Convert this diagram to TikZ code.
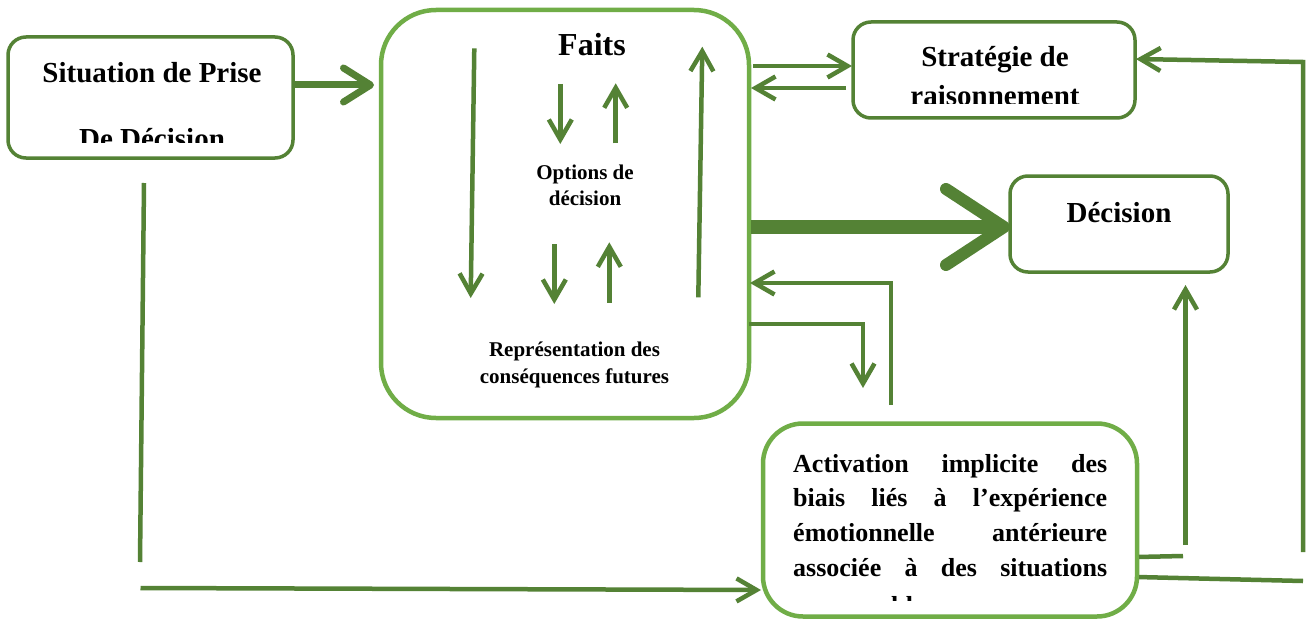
\documentclass[tikz,border=0pt]{standalone}
\usepackage{fontspec}
\setmainfont{Liberation Serif}
\usetikzlibrary{arrows.meta}
\definecolor{dkgreen}{RGB}{84,130,53}
\definecolor{ltgreen}{RGB}{112,173,71}
\tikzset{
  darkbox/.style={draw=dkgreen, line width=3.5pt, rounded corners=18pt, inner sep=0pt, outer sep=0pt, fill=white},
  lightbox/.style={draw=ltgreen, line width=4.5pt, inner sep=0pt, outer sep=0pt, fill=white},
  conn/.style={draw=dkgreen, line width=4.5pt},
  arr/.style={conn, -{Straight Barb[length=20pt,width=23pt]}},
  thickarr/.style={draw=dkgreen, line width=7pt, -{Straight Barb[length=27pt,width=34pt,round]}},
  hugearr/.style={draw=dkgreen, line width=14pt, -{Straight Barb[length=58pt,width=76pt,line width=12pt,round]}},
  txtL/.style={font=\fontsize{29}{35}\selectfont\bfseries, inner sep=0pt, anchor=base},
  txtF/.style={font=\fontsize{32}{38}\selectfont\bfseries, inner sep=0pt, anchor=base},
  txtA/.style={font=\fontsize{26}{35}\selectfont\bfseries, inner sep=0pt, anchor=base west},
  txtS/.style={font=\fontsize{21}{27}\selectfont\bfseries, inner sep=0pt, anchor=base},
}
\begin{document}
\begin{tikzpicture}[x=1pt,y=-1pt]
\useasboundingbox[fill=white] (0,0) rectangle (1306,623);

% boxes
\node[darkbox, minimum width=285pt, minimum height=121pt] (sit) at (150.5,97.5) {};
\node[lightbox, rounded corners=55pt, minimum width=368pt, minimum height=408pt] (faits) at (565,214) {};
\node[darkbox, minimum width=282pt, minimum height=96pt] (strat) at (994,70) {};
\node[darkbox, minimum width=218pt, minimum height=96pt] (dec) at (1119,224) {};
\node[lightbox, rounded corners=40pt, minimum width=374pt, minimum height=193pt] (act) at (950,520) {};

% texts
\node[txtL] (sitA) at (152,83) {Situation de Prise};
\begin{scope}
  \clip (8,37) rectangle (293,142.7);
  \node[txtL] (sitB) at (152,149) {De Décision};
\end{scope}
\node[txtF] (faitsT) at (592,56) {Faits};
\node[txtS] (optA) at (585,179) {Options de};
\node[txtS] (optB) at (585,205) {décision};
\node[txtS] (repA) at (574.5,356) {Représentation des};
\node[txtS] (repB) at (574.5,383) {conséquences futures};
\node[txtL] (stratA) at (995,67) {Stratégie de};
\begin{scope}
  \clip (853,22) rectangle (1135,104);
  \node[txtL] (stratB) at (995,106) {raisonnement};
\end{scope}
\node[txtL] (decT) at (1119,222) {Décision};
\node[txtA] (actA) at (793,472) {\makebox[314pt][s]{Activation implicite des}};
\node[txtA] (actB) at (793,506) {\makebox[314pt][s]{biais liés à l’expérience}};
\node[txtA] (actC) at (793,541) {\makebox[314pt][s]{émotionnelle antérieure}};
\node[txtA] (actD) at (793,576) {\makebox[314pt][s]{associée à des situations}};
\begin{scope}
  \clip (763,423) rectangle (1137,600);
  \node[txtA] (actE) at (793,614.5) {comparables};
\end{scope}

% coordinates for free ends
\coordinate (ld1) at (474.3,48.3);   \coordinate (ld2) at (470.7,298);
\coordinate (sd1) at (560.3,84);     \coordinate (sd2) at (560.3,144);
\coordinate (su1) at (615.7,143.3);  \coordinate (su2) at (615.7,83.3);
\coordinate (sd3) at (554.3,244.3);  \coordinate (sd4) at (554.3,304);
\coordinate (su3) at (609.3,302.7);  \coordinate (su4) at (609.3,242.3);
\coordinate (lu1) at (698.3,297.3);  \coordinate (lu2) at (702.3,46.7);
\coordinate (c5) at (863,388);
\coordinate (c6) at (891,405);
\coordinate (c7a) at (1183,556);     \coordinate (c7b) at (1185.5,545);
\coordinate (c8a) at (1303,581);     \coordinate (c8b) at (1303,552);
\coordinate (c8c) at (1303,62);
\coordinate (c9a) at (144,183);      \coordinate (c9b) at (140,562);
\coordinate (c9c) at (140.5,588);

% arrows inside Faits
\draw[arr] (ld1) -- (ld2);
\draw[arr] (sd1) -- (sd2);
\draw[arr] (su1) -- (su2);
\draw[arr] (sd3) -- (sd4);
\draw[arr] (su3) -- (su4);
\draw[arr] (lu1) -- (lu2);

% connectors
\draw[thickarr, shorten >=7pt] (sit.east |- 0,85) -- (faits.west |- 0,85);
\draw[arr, shorten <=4pt, shorten >=1pt] (faits.east |- 0,66) -- (strat.west |- 0,66);
\draw[arr, shorten <=7pt, shorten >=2pt] (strat.west |- 0,88) -- (faits.east |- 0,88);
\draw[hugearr, shorten <=2pt] (faits.east |- 0,227) -- (dec.west |- 0,227);
\draw[arr] (faits.east |- 0,324) -| (c5);
\draw[arr, shorten >=1pt] (c6) |- (faits.east |- 0,283);
\draw[conn, shorten <=2pt] (act.east |- 0,557) -- (c7a);
\draw[arr, shorten >=13pt] (c7b) -- (dec.south -| c7b);
\draw[conn, shorten <=2pt] (act.east |- 0,577) -- (c8a);
\draw[arr, shorten >=1pt] (c8b) -- (c8c) -- (strat.east |- 0,59);
\draw[conn] (c9a) -- (c9b);
\draw[arr, shorten >=2pt] (c9c) -- (act.west |- 0,590);
\end{tikzpicture}
\end{document}
